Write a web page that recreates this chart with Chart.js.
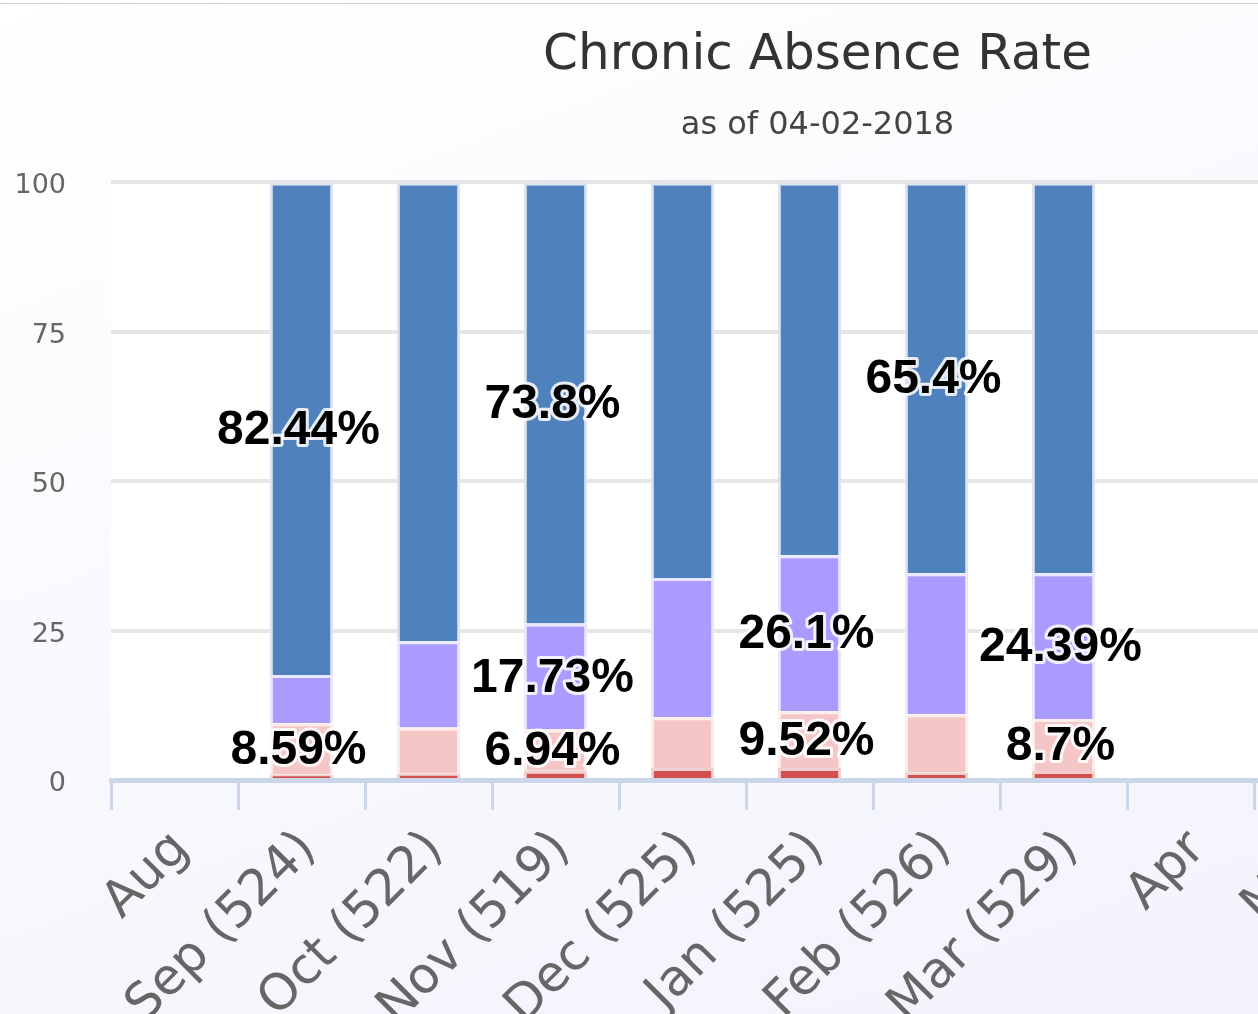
<!DOCTYPE html>
<html lang="en">
<head>
<meta charset="UTF-8" />
<title>Chronic Absence Rate</title>
<script src="https://cdn.jsdelivr.net/npm/chart.js@4.4.0/dist/chart.umd.min.js"></script>
<style>
  html, body { margin: 0; padding: 0; overflow: hidden; }
  body {
    width: 1258px;
    height: 1014px;
    position: relative;
    background: linear-gradient(160deg, #ffffff 0%, #f2f3fc 100%);
  }
  .topline { position: absolute; left: 0; top: 3px; width: 100%; height: 1px; background: #cccccc; }
  #wrap { position: absolute; left: 0; top: 0; width: 1640px; height: 1014px; }
</style>
</head>
<body>
<div class="topline"></div>
<div id="wrap"><canvas id="absence" width="1640" height="1014"></canvas></div>
<script>
  const months = ['Aug', 'Sep (524)', 'Oct (522)', 'Nov (519)', 'Dec (525)', 'Jan (525)',
    'Feb (526)', 'Mar (529)', 'Apr', 'May', 'Jun', 'Jul'];

  // percent of students in each band, bottom of the stack first
  const severe = [null, 0.9, 1.1, 1.53, 2.0, 2.0, 1.3, 1.5, null, null, null, null];
  const moderate = [null, 8.59, 7.7, 6.94, 8.5, 9.52, 9.7, 8.7, null, null, null, null];
  const atRisk = [null, 8.07, 14.4, 17.73, 23.3, 26.1, 23.6, 24.39, null, null, null, null];
  const satisfactory = [null, 82.44, 76.8, 73.8, 66.2, 62.38, 65.4, 65.41, null, null, null, null];

  // which bars carry a visible value label (the rest were hidden for overlap)
  const severeShown = [];
  const moderateShown = [1, 3, 5, 7];
  const atRiskShown = [3, 5, 7];
  const satisfactoryShown = [1, 3, 6];

  const yTicks = [0, 25, 50, 75, 100];

  const plotBg = {
    id: 'plotBg',
    beforeDraw(chart) {
      const { ctx, chartArea: a } = chart;
      ctx.save();
      ctx.fillStyle = '#ffffff';
      ctx.fillRect(a.left, a.top, a.right - a.left, a.bottom - a.top);
      ctx.restore();
    }
  };

  const barLabels = {
    id: 'barLabels',
    afterDatasetsDraw(chart) {
      const ctx = chart.ctx;
      ctx.save();
      ctx.font = 'bold 48px "Liberation Sans", Arial, sans-serif';
      ctx.textAlign = 'center';
      ctx.textBaseline = 'middle';
      ctx.lineJoin = 'round';
      chart.data.datasets.forEach((ds, i) => {
        const meta = chart.getDatasetMeta(i);
        ds.shown.forEach(j => {
          const bar = meta.data[j];
          const text = ds.data[j] + '%';
          const y = (bar.y + bar.base) / 2 + 2;
          ctx.lineWidth = 6;
          ctx.strokeStyle = 'rgba(255,255,255,0.85)';
          ctx.strokeText(text, bar.x - 3, y);
          ctx.fillStyle = '#000000';
          ctx.fillText(text, bar.x - 3, y);
        });
      });
      ctx.restore();
    }
  };

  const series = [
    { label: 'Severe Chronic', data: severe, shown: severeShown, backgroundColor: '#d24f4f', borderColor: '#f3d0d0' },
    { label: 'Moderate Chronic', data: moderate, shown: moderateShown, backgroundColor: '#f5c6c6', borderColor: '#fdeeee' },
    { label: 'At Risk', data: atRisk, shown: atRiskShown, backgroundColor: '#aa9bff', borderColor: '#ebe7ff' },
    { label: 'Satisfactory', data: satisfactory, shown: satisfactoryShown, backgroundColor: '#4f81bd', borderColor: '#dce4f1' }
  ];

  new Chart(document.getElementById('absence'), {
    type: 'bar',
    data: {
      labels: months,
      datasets: series.map(s => ({
        label: s.label,
        data: s.data,
        shown: s.shown,
        backgroundColor: s.backgroundColor,
        borderColor: s.borderColor,
        borderWidth: 3,
        barPercentage: 0.5,
        categoryPercentage: 1
      }))
    },
    options: {
      responsive: false,
      animation: false,
      layout: { padding: { left: 0, right: 5, top: 0, bottom: 0 } },
      plugins: {
        legend: { display: false },
        tooltip: { enabled: false },
        title: {
          display: true,
          text: 'Chronic Absence Rate',
          color: '#333333',
          font: { family: 'DejaVu Sans', size: 50, weight: 'normal', lineHeight: 1.2 },
          padding: { top: 26, bottom: 0 }
        },
        subtitle: {
          display: true,
          text: 'as of 04-02-2018',
          color: '#444444',
          font: { family: 'DejaVu Sans', size: 32, weight: 'normal', lineHeight: 1.2 },
          padding: { top: 20, bottom: 38 }
        }
      },
      scales: {
        x: {
          stacked: true,
          grid: { offset: true, drawOnChartArea: false, drawTicks: true, tickLength: 30, color: '#ccd6eb', lineWidth: 3 },
          border: { display: true, color: '#ccd6eb', width: 5 },
          ticks: {
            color: '#666666',
            font: { family: 'DejaVu Sans', size: 50 },
            minRotation: 45,
            maxRotation: 45,
            autoSkip: false,
            padding: 10,
            labelOffset: 7
          },
          afterFit(scale) { scale.height = 234; }
        },
        y: {
          stacked: true,
          min: 0,
          max: 100,
          afterBuildTicks(scale) { scale.ticks = yTicks.map(v => ({ value: v })); },
          grid: {
            drawTicks: false,
            lineWidth: 4,
            color: ctx => (ctx.tick && ctx.tick.value === 0 ? '#ccd6eb' : '#e6e6e6')
          },
          border: { display: false },
          ticks: {
            color: '#666666',
            font: { family: 'DejaVu Sans', size: 27 },
            padding: 45,
            labelOffset: 4
          },
          afterFit(scale) { scale.width = 111; }
        }
      }
    },
    plugins: [plotBg, barLabels]
  });
</script>
</body>
</html>
